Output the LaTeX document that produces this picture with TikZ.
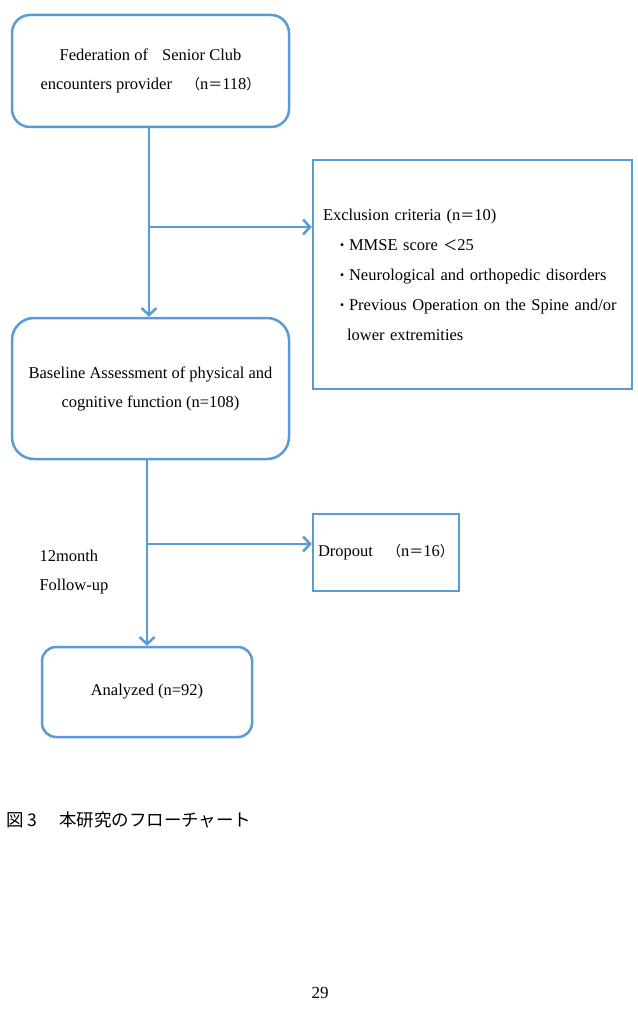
\documentclass[tikz,border=0pt]{standalone}
\usepackage{fontspec}
\setmainfont{Liberation Serif}
\newfontfamily\cjk[Scale=0.85]{Noto Sans CJK JP}
\newfontfamily\jpfont{Noto Sans CJK JP}
\usetikzlibrary{arrows.meta}
\definecolor{flowblue}{RGB}{91,155,213}
\tikzstyle{rbox} = [rectangle, draw=flowblue, line width=2.5pt, rounded corners=18pt, fill=white, align=center, font=\fontsize{16.5pt}{29pt}\selectfont]
\tikzstyle{sbox} = [rectangle, draw=flowblue, line width=2.5pt, fill=white, font=\fontsize{16.5pt}{30pt}\selectfont]
\tikzstyle{line} = [draw=flowblue, line width=2.5pt, -{Straight Barb[length=7pt,width=15pt,line width=2.5pt]}]

\begin{document}
\begin{tikzpicture}[x=1pt, y=-1pt]
    \useasboundingbox[fill=white] (0,0) rectangle (637,1024);

    \node[rbox, minimum width=277pt, minimum height=112pt](top) at (150.5,71)
        {Federation of{\cjk　}Senior Club\\encounters provider{\cjk　（}n{\cjk＝}118{\cjk ）}};
    \node[sbox, minimum width=319pt, minimum height=229pt, text width=299pt, inner xsep=10pt, align=left](excl) at (472.5,274.5)
        {Exclusion criteria (n{\cjk＝}10)\\
         \hspace*{12pt}{\cjk ・}MMSE score {\cjk ＜}25\\
         \hspace*{12pt}{\cjk ・}Neurological and orthopedic disorders\\
         \hspace*{12pt}{\cjk ・}Previous Operation on the Spine and/or\\
         \hspace*{24pt}lower extremities};
    \node[rbox, minimum width=277pt, minimum height=141pt, rounded corners=22pt](base) at (150.5,388.5)
        {Baseline Assessment of physical and\\cognitive function (n=108)};
    \node[sbox, minimum width=146pt, minimum height=77pt](drop) at (386,552.5)
        {Dropout{\cjk　（}n{\cjk＝}16{\cjk ）}};
    \node[rbox, minimum width=210pt, minimum height=90pt, rounded corners=14pt](ana) at (147,692)
        {Analyzed (n=92)};

    \node[anchor=west, align=left, font=\fontsize{16.5pt}{29pt}\selectfont](follow) at (36,572)
        {12month\\Follow-up};

    \coordinate (b1) at (149,227);
    \coordinate (b2) at (147,544);

    \path[line] (top.south -| b1) -- (base.north -| b1);
    \path[line] (b1) -- (b1 -| excl.west);
    \path[line] (base.south -| b2) -- (ana.north -| b2);
    \path[line] (b2) -- (b2 -| drop.west);

    % caption and page number
    \node[anchor=west, font=\jpfont\fontsize{17.5pt}{20pt}\selectfont](caption) at (3,820)
        {図{\ }3{\ }　本研究のフローチャート};
    \node[font=\fontsize{17pt}{19pt}\selectfont](page) at (320,993) {29};
\end{tikzpicture}
\end{document}
